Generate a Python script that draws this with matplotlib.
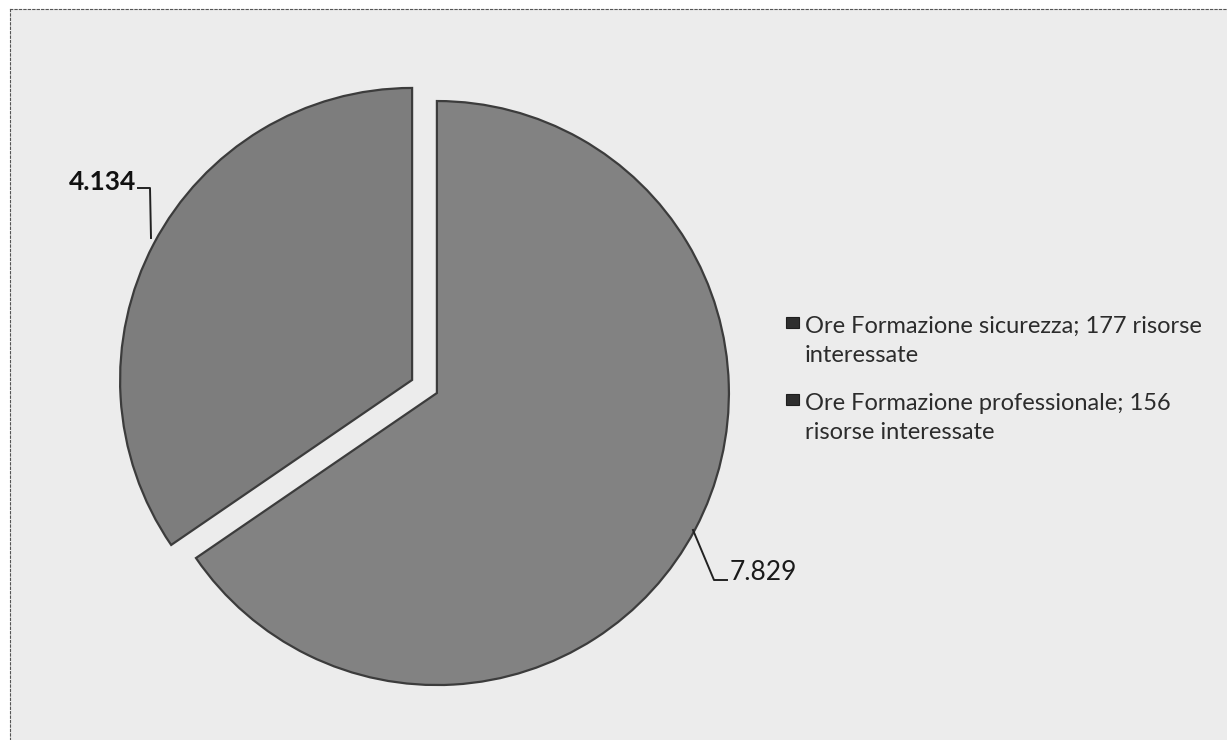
import matplotlib.pyplot as plt
from matplotlib.patches import Rectangle

# ore di formazione per tipologia
labels = ['Ore Formazione sicurezza; 177 risorse\ninteressate',
          'Ore Formazione professionale; 156\nrisorse interessate']
values = [7829, 4134]
value_labels = ['7.829', '4.134']
colors = ['#828282', '#7d7d7d']

plt.rcParams['font.family'] = ['Lato', 'DejaVu Sans']

W, H = 1227, 740
fig = plt.figure(figsize=(W / 100, H / 100), dpi=100)
fig.patch.set_facecolor('white')

# sfondo grigio della pagina con bordo tratteggiato
bg = fig.add_axes([10 / W, 0, 1 - 10 / W, 1 - 9 / H])
bg.set_facecolor('#ececec')
bg.set_xticks([])
bg.set_yticks([])
for side in ['right', 'bottom']:
    bg.spines[side].set_visible(False)
for side in ['left', 'top']:
    bg.spines[side].set_linestyle((0, (2, 2)))
    bg.spines[side].set_color('#555555')
    bg.spines[side].set_linewidth(0.8)

# torta: centro e raggio in pixel
cx, cy, rad = 424.5, 740 - 386.5, 292
half = 1.2 * rad
ax = fig.add_axes([(cx - half) / W, (cy - half) / H, 2 * half / W, 2 * half / H])
ax.patch.set_alpha(0)

wedges, _ = ax.pie(values, startangle=90, counterclock=False,
                   explode=[0.048, 0.048], colors=colors,
                   wedgeprops=dict(edgecolor='#3c3c3c', linewidth=1.6))
ax.set_xlim(-1.2, 1.2)
ax.set_ylim(-1.2, 1.2)
ax.set_aspect('equal')


# etichette dei valori con linee di richiamo
def px(x, y):
    return ((x - cx) / rad, (740 - y - cy) / rad)


lx = [px(693, 530), px(714, 580), px(727, 580)]
ax.plot([p[0] for p in lx], [p[1] for p in lx], color='#222222', lw=1.4,
        clip_on=False)
ax.text(*px(730, 572), value_labels[0], fontsize=19, color='#1a1a1a',
        ha='left', va='center')

lx = [px(151, 238), px(150, 188), px(138, 188)]
ax.plot([p[0] for p in lx], [p[1] for p in lx], color='#222222', lw=1.4,
        clip_on=False)
ax.text(*px(136, 182), value_labels[1], fontsize=19, color='#111111',
        fontweight='bold', ha='right', va='center')

# legenda: quadratino allineato alla prima riga di ogni voce
line_gap = 31
for i, lab in enumerate(labels):
    base = 331 + i * 77
    last = base + line_gap * lab.count('\n')
    fig.patches.append(Rectangle((786 / W, 1 - (base - 3) / H), 13 / W, 11 / H,
                                 transform=fig.transFigure,
                                 facecolor='#2e2e2e', edgecolor='#1e1e1e',
                                 lw=0.8))
    fig.text(805 / W, 1 - last / H, lab, fontsize=17, color='#2c2c2c',
             ha='left', va='baseline', linespacing=1.49)

fig.savefig('out.png', dpi=100)
